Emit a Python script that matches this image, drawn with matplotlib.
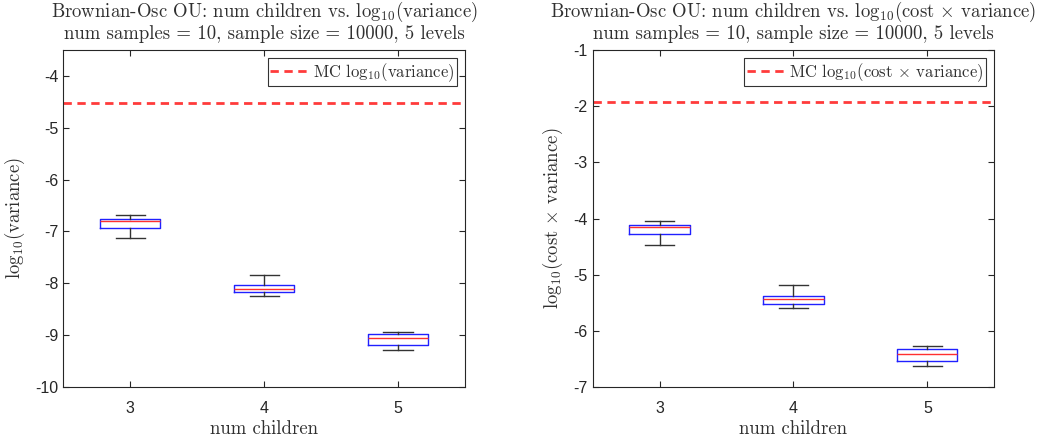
import matplotlib
matplotlib.use('Agg')
import matplotlib.pyplot as plt

plt.rcParams['mathtext.fontset'] = 'cm'
plt.rcParams['axes.unicode_minus'] = False
plt.rcParams['font.family'] = ['Liberation Sans', 'DejaVu Sans']

num_children = [3, 4, 5]

# five-number summaries: low whisker, q1, median, q3, high whisker
var_lo = [-7.12, -8.24, -9.28]
var_q1 = [-6.94, -8.17, -9.18]
var_med = [-6.80, -8.10, -9.06]
var_q3 = [-6.76, -8.03, -8.97]
var_hi = [-6.69, -7.83, -8.93]
mc_var = -4.52

cv_lo = [-4.47, -5.59, -6.63]
cv_q1 = [-4.28, -5.52, -6.53]
cv_med = [-4.15, -5.44, -6.42]
cv_q3 = [-4.11, -5.38, -6.33]
cv_hi = [-4.04, -5.18, -6.27]
mc_cv = -1.92

serif = {'family': 'cmr10'}
fs = 13.5
txt = '#303030'


def stats(lo, q1, med, q3, hi):
    return [dict(whislo=a, q1=b, med=c, q3=d, whishi=e, fliers=[])
            for a, b, c, d, e in zip(lo, q1, med, q3, hi)]


def panel(ax, st, mc, ylim, yticks, title, ylabel, leglabel):
    ax.bxp(st, positions=num_children, widths=0.45, showfliers=False,
           boxprops=dict(color='#2020ff', linewidth=1),
           medianprops=dict(color='#ff3030', linewidth=1),
           whiskerprops=dict(color='#333333', linewidth=1),
           capprops=dict(color='#333333', linewidth=1), capwidths=0.22)
    ax.axhline(mc, color='#ff3b3b', linestyle='--', linewidth=2, dashes=(3, 2),
               label=leglabel)
    ax.set_xlim(2.5, 5.5)
    ax.set_ylim(*ylim)
    ax.set_xticks(num_children)
    ax.set_xticklabels([str(n) for n in num_children])
    ax.set_yticks(yticks)
    ax.set_yticklabels([str(t) for t in yticks])
    ax.tick_params(direction='in', top=True, right=True, labelsize=11.5,
                   colors='#262626', length=4)
    ax.tick_params(axis='x', pad=10)
    for s in ax.spines.values():
        s.set_color('#262626')
    ax.set_title(title, fontsize=fs, fontdict=serif, pad=8, linespacing=1.05,
                 color=txt)
    ax.set_xlabel('num children', fontdict=serif, fontsize=fs, labelpad=3,
                  color=txt)
    ax.set_ylabel(ylabel, fontdict=serif, fontsize=fs, labelpad=6, color=txt)
    leg = ax.legend(loc='upper right', fancybox=False, edgecolor='black',
                    prop={'family': 'cmr10', 'size': 12}, handlelength=2.4,
                    borderaxespad=0.5, borderpad=0.15, handletextpad=0.15,
                    labelcolor=txt)
    leg.get_frame().set_linewidth(0.8)


fig = plt.figure(figsize=(10.44, 4.41), dpi=100)
ax1 = fig.add_axes([0.0607, 0.1224, 0.3848, 0.7642])
ax2 = fig.add_axes([0.5677, 0.1224, 0.3847, 0.7642])

panel(ax1, stats(var_lo, var_q1, var_med, var_q3, var_hi), mc_var,
      (-10, -3.5), [-10, -9, -8, -7, -6, -5, -4],
      'Brownian-Osc OU: num children vs. log$_{10}$(variance)\n'
      'num samples = 10, sample size = 10000, 5 levels',
      'log$_{10}$(variance)', 'MC log$_{10}$(variance)')
panel(ax2, stats(cv_lo, cv_q1, cv_med, cv_q3, cv_hi), mc_cv,
      (-7, -1), [-7, -6, -5, -4, -3, -2, -1],
      'Brownian-Osc OU: num children vs. log$_{10}$(cost $\\times$ variance)\n'
      'num samples = 10, sample size = 10000, 5 levels',
      'log$_{10}$(cost $\\times$ variance)', 'MC log$_{10}$(cost $\\times$ variance)')

fig.savefig('out.png', dpi=100)
